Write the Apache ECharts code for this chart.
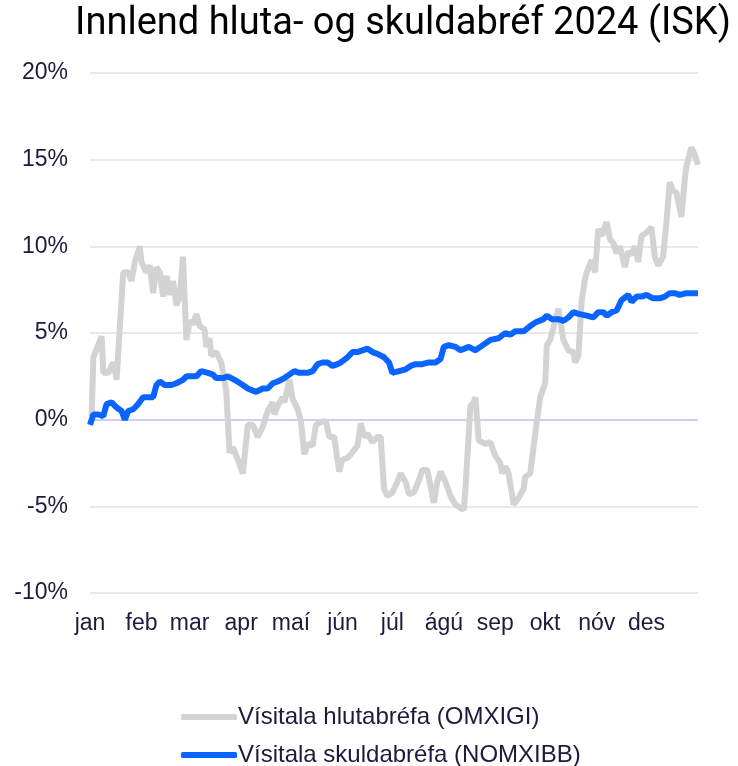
<!DOCTYPE html>
<html>
<head>
<meta charset="utf-8">
<script src="https://cdn.jsdelivr.net/npm/echarts@6/dist/echarts.min.js"></script>
<style>
  html, body { margin: 0; padding: 0; background: #fff; }
  #main { width: 738px; height: 766px; }
</style>
</head>
<body>
<div id="main"></div>
<script>
// mánaðaheiti og fyrsti dagur hvers mánaðar (dagur ársins)
var months = ['jan', 'feb', 'mar', 'apr', 'maí', 'jún', 'júl', 'ágú', 'sep', 'okt', 'nóv', 'des'];
var monthStart = [0, 31, 60, 91, 121, 152, 182, 213, 244, 274, 305, 335];

// Vísitala hlutabréfa (OMXIGI) - dagur, %
var omxigiDays = [1, 2, 7, 8, 11, 14, 16, 20, 23, 25, 27, 30, 31, 34, 36, 38, 40, 42, 44, 46, 48, 50, 52, 54, 56, 58, 60, 62, 64, 66, 69, 70, 72, 73, 76, 79, 82, 84, 86, 89, 92, 95, 98, 101, 104, 107, 110, 111, 113, 116, 117, 120, 122, 125, 127, 129, 131, 134, 136, 140, 142, 144, 147, 150, 152, 155, 157, 161, 163, 165, 167, 170, 173, 175, 177, 179, 182, 185, 187, 190, 192, 195, 198, 200, 203, 207, 209, 211, 214, 217, 220, 223, 225, 226, 229, 231, 232, 234, 235, 238, 241, 244, 247, 248, 250, 252, 255, 258, 261, 262, 265, 268, 271, 274, 275, 277, 280, 282, 283, 285, 288, 291, 292, 294, 296, 298, 299, 302, 304, 306, 308, 311, 313, 315, 317, 319, 322, 324, 326, 328, 330, 332, 335, 338, 340, 342, 345, 347, 349, 351, 353, 356, 358, 359, 362, 364, 366];
var omxigiVals = [0.2, 3.6, 4.8, 2.7, 2.7, 3.3, 2.3, 8.5, 8.5, 8.0, 9.1, 10.0, 9.1, 8.5, 8.9, 7.3, 8.8, 8.5, 7.1, 8.3, 7.2, 8.0, 6.6, 7.1, 9.4, 4.6, 5.7, 5.5, 6.1, 5.4, 5.2, 4.2, 4.7, 3.7, 3.9, 3.3, 1.7, -1.9, -1.6, -2.3, -3.1, -0.3, -0.3, -1.0, -0.4, 0.5, 1.0, 0.3, 0.8, 1.3, 1.0, 2.3, 1.2, 0.6, -0.1, -2.0, -1.4, -1.5, -0.3, -0.1, -0.1, -1.0, -1.0, -3.0, -2.3, -2.2, -2.0, -1.5, -0.2, -1.0, -0.8, -1.3, -1.0, -1.0, -4.0, -4.4, -4.2, -3.6, -3.1, -3.6, -4.3, -4.2, -3.5, -2.9, -2.9, -4.8, -3.6, -3.0, -3.6, -4.4, -4.9, -5.1, -5.2, -4.0, 0.8, 1.0, 1.3, -1.2, -1.3, -1.4, -1.3, -2.1, -2.5, -3.1, -2.7, -3.1, -4.9, -4.5, -4.0, -3.3, -3.1, -0.8, 1.3, 2.1, 4.3, 4.6, 5.7, 6.4, 6.3, 4.6, 4.0, 3.9, 3.3, 3.7, 6.9, 8.1, 8.5, 9.2, 8.5, 11.0, 10.6, 11.4, 10.4, 10.2, 9.6, 10.0, 8.8, 9.7, 9.5, 10.0, 9.1, 10.6, 10.8, 11.1, 9.4, 8.9, 9.4, 11.4, 13.7, 13.2, 13.1, 11.7, 13.8, 14.6, 15.7, 15.3, 14.7];

// Vísitala skuldabréfa (NOMXIBB) - dagur, %
var nomxibbDays = [0, 2, 5, 8, 10, 13, 16, 19, 21, 23, 26, 29, 32, 35, 38, 40, 42, 45, 49, 52, 56, 58, 61, 64, 67, 71, 74, 76, 80, 83, 87, 92, 95, 100, 104, 107, 110, 113, 117, 120, 123, 126, 131, 134, 137, 140, 143, 146, 149, 151, 155, 158, 161, 164, 167, 170, 173, 177, 180, 182, 186, 190, 193, 196, 200, 204, 208, 211, 213, 216, 220, 223, 228, 232, 235, 238, 241, 246, 250, 253, 256, 261, 265, 268, 273, 275, 278, 282, 285, 288, 291, 294, 299, 303, 306, 309, 311, 314, 317, 320, 324, 326, 329, 332, 335, 339, 343, 346, 349, 352, 355, 359, 363, 366];
var nomxibbVals = [-0.3, 0.3, 0.3, 0.2, 0.9, 1.0, 0.7, 0.5, 0.0, 0.5, 0.6, 0.9, 1.3, 1.3, 1.3, 2.0, 2.2, 2.0, 2.0, 2.1, 2.3, 2.5, 2.5, 2.5, 2.8, 2.7, 2.6, 2.4, 2.4, 2.5, 2.3, 2.0, 1.8, 1.6, 1.8, 1.8, 2.1, 2.2, 2.4, 2.6, 2.8, 2.7, 2.7, 2.8, 3.2, 3.3, 3.3, 3.1, 3.2, 3.3, 3.6, 3.9, 3.9, 4.0, 4.1, 3.9, 3.8, 3.6, 3.3, 2.7, 2.8, 2.9, 3.1, 3.2, 3.2, 3.3, 3.3, 3.5, 4.2, 4.3, 4.2, 4.0, 4.2, 4.0, 4.2, 4.4, 4.6, 4.7, 5.0, 4.9, 5.1, 5.1, 5.4, 5.6, 5.8, 6.0, 5.8, 5.8, 5.7, 5.9, 6.2, 6.1, 6.0, 5.9, 6.2, 6.2, 6.0, 6.2, 6.3, 6.9, 7.2, 6.8, 7.1, 7.1, 7.2, 7.0, 7.0, 7.1, 7.3, 7.3, 7.2, 7.3, 7.3, 7.3];

var yTicks = [-10, -5, 0, 5, 10, 15, 20];
var seriesNames = ['Vísitala hlutabréfa (OMXIGI)', 'Vísitala skuldabréfa (NOMXIBB)'];

function pairs(days, vals) {
    var out = [];
    for (var i = 0; i < days.length; i++) {
        out.push([days[i], vals[i]]);
    }
    return out;
}

var txt = '#1b1b3d';
var gridColors = yTicks.map(function (t) { return t === 0 ? '#c2bbf3' : '#e0e0e0'; });

// ein skýring í hverri línu
function legendRow(name, top) {
    return {
        left: 176,
        top: top,
        itemWidth: 56,
        itemHeight: 6,
        icon: 'roundRect',
        textStyle: {
            fontFamily: 'Liberation Sans',
            fontSize: 24,
            color: txt,
            padding: [0, 0, 0, -4]
        },
        data: [name]
    };
}

var myChart = echarts.init(document.getElementById('main'));
var option = {
    animation: false,
    backgroundColor: '#fff',
    title: {
        text: 'Innlend hluta- og skuldabréf 2024 (ISK)',
        left: 398,
        textAlign: 'center',
        top: 0,
        textStyle: {
            fontFamily: 'Roboto',
            fontWeight: 'normal',
            fontSize: 38,
            color: '#000'
        }
    },
    legend: [legendRow(seriesNames[0], 700), legendRow(seriesNames[1], 738)],
    grid: {
        left: 90,
        right: 40,
        top: 73,
        bottom: 173
    },
    xAxis: {
        type: 'value',
        min: 0,
        max: 366,
        interval: 1,
        axisLine: { show: false },
        axisTick: { show: false },
        splitLine: { show: false },
        axisLabel: {
            margin: 19,
            fontFamily: 'Liberation Sans',
            fontSize: 23,
            color: txt,
            showMinLabel: true,
            showMaxLabel: false,
            formatter: function (v) {
                var k = monthStart.indexOf(v);
                return k >= 0 ? months[k] : '';
            }
        }
    },
    yAxis: {
        type: 'value',
        min: -10,
        max: 20,
        interval: 5,
        axisLine: { show: false },
        axisTick: { show: false },
        axisLabel: {
            margin: 22,
            fontFamily: 'Liberation Sans',
            fontSize: 23,
            color: txt,
            formatter: '{value}%'
        },
        splitLine: {
            lineStyle: { color: gridColors, width: 1.5 }
        }
    },
    series: [
        {
            name: seriesNames[0],
            type: 'line',
            showSymbol: false,
            color: '#d3d3d3',
            lineStyle: { width: 6, color: '#d3d3d3' },
            data: pairs(omxigiDays, omxigiVals)
        },
        {
            name: seriesNames[1],
            type: 'line',
            showSymbol: false,
            color: '#0a64ff',
            lineStyle: { width: 6, color: '#0a64ff' },
            data: pairs(nomxibbDays, nomxibbVals)
        }
    ]
};
myChart.setOption(option);
</script>
</body>
</html>
